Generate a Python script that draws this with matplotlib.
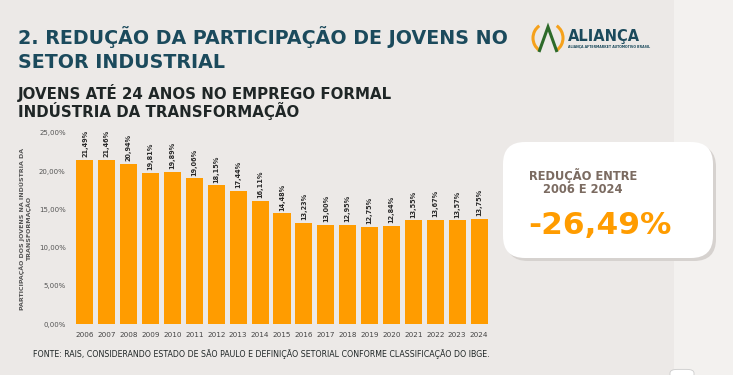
import matplotlib
matplotlib.use("Agg")
import matplotlib.pyplot as plt
from matplotlib.patches import FancyBboxPatch, Rectangle, Arc, Polygon

years = ['2006', '2007', '2008', '2009', '2010', '2011', '2012', '2013', '2014', '2015',
         '2016', '2017', '2018', '2019', '2020', '2021', '2022', '2023', '2024']
share = [21.49, 21.46, 20.94, 19.81, 19.89, 19.06, 18.15, 17.44, 16.11, 14.48,
         13.23, 13.00, 12.95, 12.75, 12.84, 13.55, 13.67, 13.57, 13.75]
yticks = [0, 5, 10, 15, 20, 25]

BG = '#ece9e7'
ORANGE = '#ff9c00'
TEAL = '#1b4a5c'
DARK = '#1f2626'
HEAD = 'DejaVu Sans'

def br(v):
    return f'{v:.2f}'.replace('.', ',') + '%'

fig = plt.figure(figsize=(7.33, 3.75), dpi=100)
fig.patch.set_facecolor(BG)

# lighter strip on the right
fig.add_artist(Rectangle((674 / 733, 0), 1, 1, transform=fig.transFigure,
                         facecolor='#f3f1ef', edgecolor='none', zorder=0))

# titles (baseline = last line)
fig.text(18 / 733, 1 - 68 / 375, '2. REDUÇÃO DA PARTICIPAÇÃO DE JOVENS NO\nSETOR INDUSTRIAL',
         fontsize=13.7, fontweight='bold', family=HEAD, color=TEAL,
         ha='left', va='baseline', linespacing=1.32)
fig.text(18 / 733, 1 - 117 / 375, 'JOVENS ATÉ 24 ANOS NO EMPREGO FORMAL\nINDÚSTRIA DA TRANSFORMAÇÃO',
         fontsize=10.8, fontweight='bold', family=HEAD, color=DARK,
         ha='left', va='baseline', linespacing=1.0)

# chart
ax = fig.add_axes([74 / 733, 51 / 375, (490 - 74) / 733, (242 - 51) / 375])
ax.set_facecolor('none')
x = range(len(years))
ax.bar(x, share, width=0.78, color=ORANGE, zorder=2)
for i, v in enumerate(share):
    ax.text(i, v + 0.35, br(v), rotation=90, ha='center', va='bottom',
            fontsize=4.7, fontweight='bold', color='#2a2a2a', family=HEAD)
ax.set_xlim(-0.5, len(years) - 0.5)
ax.set_ylim(0, 25)
ax.set_yticks(yticks)
ax.set_yticklabels([br(t) for t in yticks], fontsize=5.0, color='#555555', family=HEAD)
ax.set_xticks(list(x))
ax.set_xticklabels(years, fontsize=5.2, color='#444444', family=HEAD)
ax.tick_params(length=0, pad=6)
for s in ax.spines.values():
    s.set_visible(False)
ax.set_ylabel('PARTICIPAÇÃO DOS JOVENS NA INDÚSTRIA DA\nTRANSFORMAÇÃO', fontsize=4.5,
              fontweight='bold', color='#555555', family=HEAD, linespacing=1.1, labelpad=5)

# footer
fig.text(33 / 733, 1 - 357 / 375,
         'FONTE: RAIS, CONSIDERANDO ESTADO DE SÃO PAULO E DEFINIÇÃO SETORIAL CONFORME CLASSIFICAÇÃO DO IBGE.',
         fontsize=5.68, color=DARK, family=HEAD, ha='left', va='baseline')

# highlight box
shadow = FancyBboxPatch((506 / 733, 1 - 261 / 375), 210 / 733, 116 / 375,
                        boxstyle='round,pad=0,rounding_size=0.03', transform=fig.transFigure,
                        facecolor='#d6d2cf', edgecolor='none', zorder=1, mutation_aspect=733 / 375)
box = FancyBboxPatch((503 / 733, 1 - 258 / 375), 210 / 733, 116 / 375,
                     boxstyle='round,pad=0,rounding_size=0.03', transform=fig.transFigure,
                     facecolor='white', edgecolor='none', zorder=2, mutation_aspect=733 / 375)
fig.add_artist(shadow)
fig.add_artist(box)
fig.text(583 / 733, 1 - 182 / 375, 'REDUÇÃO ENTRE\n2006 E 2024', fontsize=8.3,
         fontweight='bold', color='#7b6b61', family=HEAD, ha='center', va='center',
         linespacing=1.05, zorder=3)
fig.text(528 / 733, 1 - 225 / 375, '-26,49%', fontsize=22.5, fontweight='bold',
         color=ORANGE, family=HEAD, ha='left', va='center', zorder=3)

# logo
cx, cy = 548 / 733, 1 - 38 / 375
fig.add_artist(Arc((cx, cy), 30 / 733, 30 / 375, theta1=110, theta2=250,
                   transform=fig.transFigure, color='#f5a11c', lw=2.2))
fig.add_artist(Arc((cx, cy), 30 / 733, 30 / 375, theta1=-70, theta2=70,
                   transform=fig.transFigure, color='#f5a11c', lw=2.2))
fig.add_artist(Polygon([(539 / 733, 1 - 52 / 375), (548 / 733, 1 - 27 / 375), (557 / 733, 1 - 52 / 375)],
                       closed=False, fill=False, transform=fig.transFigure,
                       edgecolor='#2d6a2a', lw=2.2))
fig.text(568 / 733, 1 - 41 / 375, 'ALIANÇA', fontsize=10.5, fontweight='bold', color=TEAL,
         family=HEAD, ha='left', va='baseline')
fig.text(568 / 733, 1 - 48 / 375, 'ALIANÇA AFTERMARKET AUTOMOTIVO BRASIL', fontsize=2.3,
         fontweight='bold', color=TEAL, family=HEAD, ha='left', va='baseline')

# small tab at bottom right
fig.add_artist(FancyBboxPatch((670 / 733, -0.02), 24 / 733, 0.035,
                              boxstyle='round,pad=0,rounding_size=0.01', transform=fig.transFigure,
                              facecolor='white', edgecolor='#cccccc', lw=0.6))

fig.savefig('out.png', dpi=100, facecolor=fig.get_facecolor())
